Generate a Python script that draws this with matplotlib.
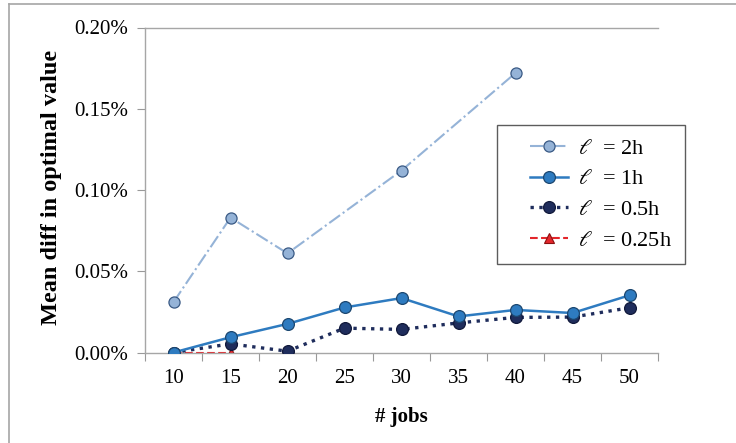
import matplotlib
matplotlib.use('Agg')
import matplotlib.pyplot as plt
from matplotlib.lines import Line2D
from matplotlib.legend_handler import HandlerLine2D

jobs = [10, 15, 20, 25, 30, 35, 40, 45, 50]

# l = 2h : no value at 25, 35, 45, 50
jobs_2h = [10, 15, 20, 30, 40]
diff_2h = [0.031, 0.083, 0.061, 0.112, 0.172]
diff_1h = [0.000, 0.0094, 0.0176, 0.0277, 0.0335, 0.0222, 0.0262, 0.0243, 0.0352]
diff_05h = [0.000, 0.0053, 0.0008, 0.0150, 0.0142, 0.0182, 0.0216, 0.0218, 0.0275]
jobs_025h = [10, 15]
diff_025h = [0.000, 0.000]

y_ticks = [0.00, 0.05, 0.10, 0.15, 0.20]

plt.rcParams['font.family'] = ['Liberation Serif', 'DejaVu Serif']
plt.rcParams['mathtext.fontset'] = 'stix'

fig = plt.figure(figsize=(7.36, 4.43), dpi=100)
ax = fig.add_axes([145 / 736, 1 - 352.5 / 443, 513 / 736, 325 / 443])

def pos(vals):
    return [jobs.index(v) for v in vals]

ax.plot(pos(jobs_2h), diff_2h, linestyle='-.', color='#95b3d7', lw=1.5,
        marker='o', ms=8, mfc='#95b3d7', mec='#3a5a85', mew=0.9, label=r'$\ell$  = 2h', zorder=3)
ax.plot(pos(jobs), diff_1h, linestyle='-', color='#2e7bc0', lw=1.8,
        marker='o', ms=8.5, mfc='#2e7bc0', mec='#1c4770', mew=0.9, label=r'$\ell$  = 1h', zorder=4)
ax.plot(pos(jobs), diff_05h, linestyle=':', color='#1f2d5c', lw=2.4,
        marker='o', ms=8.5, mfc='#1f2d5c', mec='#10183a', mew=0.9, label=r'$\ell$  = 0.5h', zorder=3)
ax.plot(pos(jobs_025h), diff_025h, linestyle='--', color='#e3262b', lw=1.5,
        marker='^', ms=7, mfc='#e3262b', mec='#8a1010', mew=0.8, label=r'$\ell$  = 0.25h', zorder=2)

ax.set_xlim(-0.5, len(jobs) - 0.5)
ax.set_ylim(0, 0.20)
ax.set_xticks([i - 0.5 for i in range(len(jobs) + 1)])
ax.set_xticklabels([])
ax.set_xticks(range(len(jobs)), minor=True)
ax.set_xticklabels([str(j) for j in jobs], minor=True, fontsize=15)
ax.tick_params(axis='x', which='major', length=5.5, color='#999999', direction='out')
ax.tick_params(axis='x', which='minor', length=0, pad=12)
ax.set_yticks(y_ticks)
ax.set_yticklabels(['%.2f%%' % v for v in y_ticks], fontsize=15)
ax.tick_params(axis='y', length=5.8, color='#999999', direction='out', pad=6.5)

for side in ['left', 'bottom', 'top']:
    ax.spines[side].set_color('#a6a6a6')
    ax.spines[side].set_linewidth(1.0)
ax.spines['right'].set_visible(False)

ax.set_xlabel('# jobs', fontsize=15, fontweight='bold')
ax.xaxis.set_label_coords(0.5, (352.5 - 417) / 325)
ax.xaxis.label.set_va('center')
ax.set_ylabel('Mean diff in optimal value', fontsize=17.5, fontweight='bold')
ax.yaxis.set_label_coords((52 - 145) / 513, (352.5 - 187) / 325)
ax.yaxis.label.set_va('center')

leg = ax.legend(loc='upper left', bbox_to_anchor=((497 - 145) / 513, (352.5 - 125) / 325),
                fontsize=16, frameon=True, fancybox=False, edgecolor='#333333',
                handlelength=2.6, borderpad=0.6, labelspacing=0.45, handletextpad=0.45,
                borderaxespad=0, handler_map={Line2D: HandlerLine2D(xpad=0.9)})
leg.get_frame().set_linewidth(1.0)

# outer frame of the chart area (only top and left visible)
fig.add_artist(Line2D([9 / 736, 1.0], [1 - 4 / 443, 1 - 4 / 443], color='#a6a6a6', lw=1.2))
fig.add_artist(Line2D([9 / 736, 9 / 736], [0.0, 1 - 4 / 443], color='#a6a6a6', lw=1.2))

fig.savefig('out.png', dpi=100)
